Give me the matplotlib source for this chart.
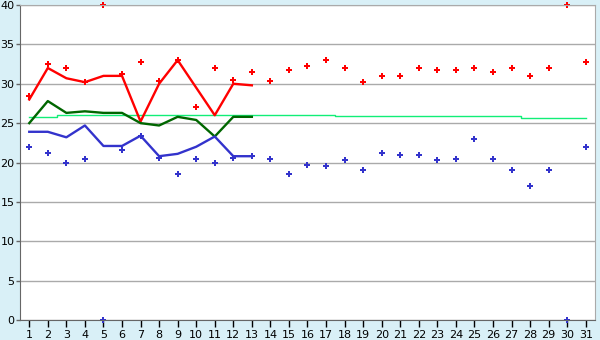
import matplotlib
matplotlib.use('Agg')
from matplotlib import pyplot as plt
from matplotlib.ticker import MultipleLocator

days = list(range(1, 32))

# daily extremes (markers)
max_pts = [28.5, 32.5, 32.0, 30.2, 40.0, 31.2, 32.8, 30.4, 33.0, 27.0, 32.0,
           30.5, 31.5, 30.4, 31.8, 32.2, 33.0, 32.0, 30.2, 31.0, 31.0, 32.0,
           31.8, 31.8, 32.0, 31.5, 32.0, 31.0, 32.0, 40.0, 32.8]
min_pts = [22.0, 21.2, 20.0, 20.5, 0.0, 21.6, 23.4, 20.6, 18.5, 20.5, 20.0,
           20.6, 20.8, 20.5, 18.5, 19.7, 19.5, 20.3, 19.0, 21.2, 21.0, 21.0,
           20.3, 20.5, 23.0, 20.5, 19.0, 17.0, 19.0, 0.0, 22.0]

# current month lines (days 1-13)
line_days = list(range(1, 14))
high_line = [28.0, 32.0, 30.7, 30.2, 31.0, 31.0, 25.2, 30.0, 33.0, 29.5, 26.0, 30.0, 29.8]
mid_line = [25.0, 27.8, 26.3, 26.5, 26.3, 26.3, 25.0, 24.7, 25.8, 25.4, 23.3, 25.8, 25.8]
low_line = [23.9, 23.9, 23.2, 24.7, 22.1, 22.1, 23.4, 20.8, 21.1, 22.0, 23.3, 20.8, 20.8]

# long-term mean
mean_line = [25.8] * 2 + [26.0] * 15 + [25.9] * 10 + [25.7] * 4

bg = '#d9f0f7'
fig = plt.figure(figsize=(6, 3.4), dpi=100, facecolor=bg)
ax = fig.add_axes([0.0333, 0.0588, 0.9584, 0.9265])
ax.set_facecolor('white')

ax.plot(days, mean_line, drawstyle='steps-mid', color='#11ee77', linewidth=1)
ax.plot(line_days, high_line, color='#ff0000', linewidth=1.7)
ax.plot(line_days, mid_line, color='#006600', linewidth=1.7)
ax.plot(line_days, low_line, color='#3333cc', linewidth=1.7)
ax.plot(days, max_pts, 'P', color='#ff0000', markersize=4.5, markeredgewidth=0, clip_on=False)
ax.plot(days, min_pts, 'P', color='#3333cc', markersize=4.5, markeredgewidth=0, clip_on=False)

ax.set_xlim(0.5, 31.5)
ax.set_ylim(0, 40)
ax.set_xticks(days)
ax.yaxis.set_major_locator(MultipleLocator(5))
ax.grid(axis='y', color='#aaaaaa', linewidth=1)
ax.set_axisbelow(True)

for s in ['top', 'right']:
    ax.spines[s].set_color('#aaaaaa')
for s in ['left', 'bottom']:
    ax.spines[s].set_color('#666666')

ax.tick_params(axis='x', direction='out', length=5, width=1, color='black',
               labelsize=8, pad=2)
ax.tick_params(axis='y', direction='out', length=3, width=1, color='#666666',
               labelsize=8, pad=1)

plt.savefig('out.png', dpi=100, facecolor=bg)
